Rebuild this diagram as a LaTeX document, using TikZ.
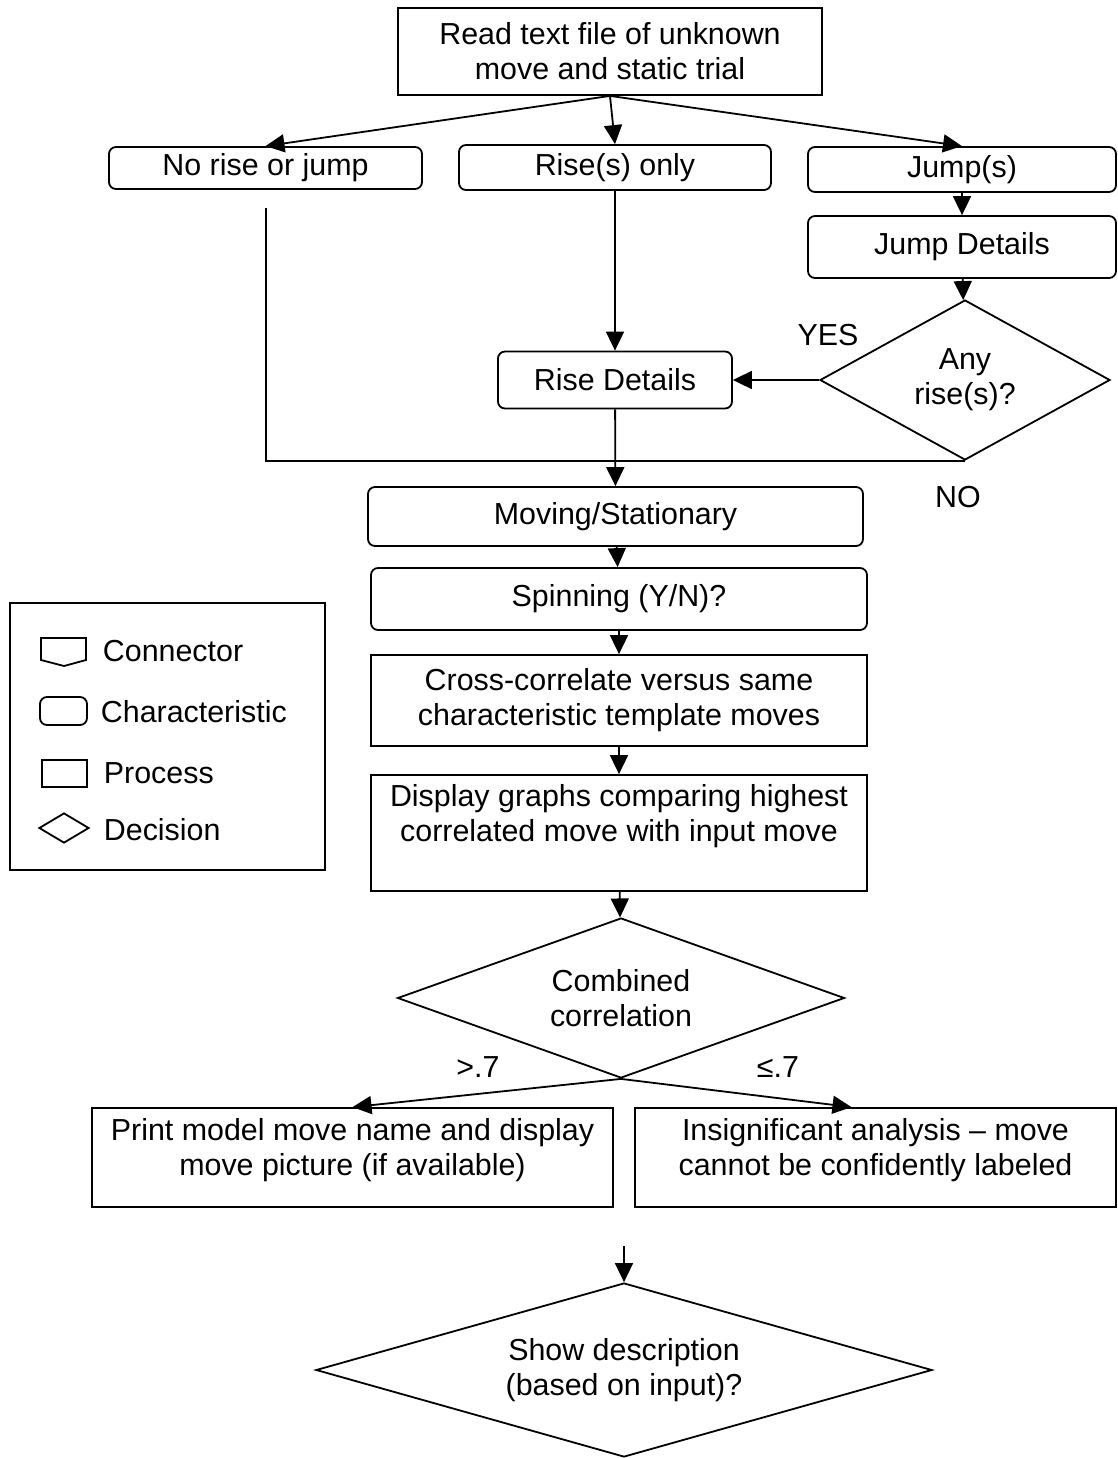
\documentclass[tikz,border=0pt]{standalone}
\usepackage{fontspec}
\setmainfont{Liberation Sans}
\usetikzlibrary{positioning, arrows.meta, shapes.geometric}

\begin{document}
\begin{tikzpicture}[
  x=0.5pt, y=-0.5pt,
  font=\fontsize{15.2}{17.5}\selectfont,
  line width=0.9pt,
  proc/.style={draw, align=center, inner sep=0pt},
  chr/.style={draw, rounded corners=3.5pt, align=center, inner sep=0pt},
  dec/.style={draw, diamond, align=center, inner sep=0pt},
  lbl/.style={inner sep=0pt},
  arr/.style={-{Triangle[length=9.5pt, width=9pt]}}
]
\useasboundingbox (0,0) rectangle (1118,1458);

\node[proc, minimum width=212pt, minimum height=43.5pt] (read) at (610,51.5)
  {Read text file of unknown\\move and static trial};
\node[chr, minimum width=156.5pt, minimum height=21pt] (nrj) at (265.5,168) {No rise or jump};
\node[chr, minimum width=156pt, minimum height=22.5pt] (ronly) at (615,167.5) {Rise(s) only};
\node[chr, minimum width=154pt, minimum height=22.5pt] (jmp) at (962,169.5) {Jump(s)};
\node[chr, minimum width=154pt, minimum height=31pt] (jdet) at (962,247) {Jump Details};
\node[dec, aspect=1.8, minimum width=145pt, minimum height=80pt] (anyr) at (965,380) {Any\\rise(s)?};
\node[chr, minimum width=117pt, minimum height=28.5pt] (rdet) at (615,380) {Rise Details};
\node[lbl] (yes) at (828,335) {YES};
\node[lbl] (no) at (958,497) {NO};
\coordinate (nrjfoot) at (266,208);

\node[chr, minimum width=247.5pt, minimum height=29.5pt] (mov) at (615.5,516.5) {Moving/Stationary};
\node[chr, minimum width=248pt, minimum height=31pt] (spin) at (619,599) {Spinning (Y/N)?};
\node[proc, minimum width=248pt, minimum height=45.5pt] (cross) at (619,700.5)
  {Cross-correlate versus same\\characteristic template moves};
\node[proc, minimum width=248pt, minimum height=58pt] (disp) at (619,833)
  {Display graphs comparing highest\\correlated move with input move\\[2.5pt]\mbox{}};
\node[dec, aspect=2.8, minimum width=223.5pt, minimum height=80pt] (comb) at (621,998)
  {Combined\\correlation};
\node[lbl] (gt) at (478,1067) {>.7};
\node[lbl] (le) at (778,1067) {≤.7};
\node[proc, minimum width=260.5pt, minimum height=49.5pt] (print) at (352.5,1157.5)
  {Print model move name and display\\move picture (if available)\\[-7pt]\mbox{}};
\node[proc, minimum width=240.5pt, minimum height=49.5pt] (insig) at (875.5,1157.5)
  {Insignificant analysis -- move\\cannot be confidently labeled\\[-7pt]\mbox{}};
\coordinate (gap) at (624,1246);
\node[dec, aspect=3.5, minimum width=308pt, minimum height=87pt] (show) at (624,1370)
  {Show description\\(based on input)?};

\draw[arr] (read.south) -- (nrj.north);
\draw[arr] (read.south) -- (ronly.north);
\draw[arr] (read.south) -- (jmp.north);
\draw[arr] (jmp) -- (jdet);
\draw[arr] (jdet) -- (anyr);
\draw[arr] (anyr.west) -- (rdet.east);
\draw[arr] (ronly) -- (rdet);
\draw (nrjfoot) |- (anyr.south);
\draw[arr] (rdet) -- (mov);
\draw[arr] (mov) -- (spin);
\draw[arr] (spin) -- (cross);
\draw[arr] (cross) -- (disp);
\draw[arr] (disp) -- (comb);
\draw[arr] (comb.south) -- (print.north);
\draw[arr] (comb.south) -- ([xshift=-12pt]insig.north);
\draw[arr] (gap) -- (show.north);

\node[draw, minimum width=157.5pt, minimum height=133.5pt] (legend) at (167.5,736.5) {};
\draw (41,638) -- (41,660) -- (64,666) -- (86,660) -- (86,638) -- cycle;
\node[lbl, anchor=west] (lconn) at (102,651) {Connector};
\node[chr, minimum width=23.5pt, minimum height=14pt] (ichr) at (63.5,711) {};
\node[lbl, anchor=west] (lchr) at (100,712) {Characteristic};
\node[proc, minimum width=22.5pt, minimum height=13.5pt] (iproc) at (64.5,773.5) {};
\node[lbl, anchor=west] (lproc) at (103,773) {Process};
\node[dec, minimum width=25pt, minimum height=15pt] (idec) at (64,828) {};
\node[lbl, anchor=west] (ldec) at (103,830) {Decision};
\end{tikzpicture}
\end{document}
